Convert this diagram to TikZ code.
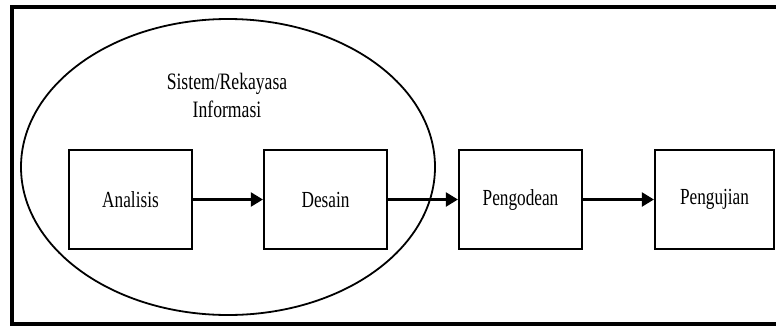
\documentclass[tikz,border=0pt]{standalone}
\usepackage{fontspec}
\setmainfont{Liberation Serif}[FakeStretch=0.75]
\usetikzlibrary{arrows.meta,shapes.geometric}
\tikzset{
  procbox/.style={draw, line width=2.2pt, minimum height=99pt, inner sep=0pt, font=\fontsize{23}{27}\selectfont},
  flow/.style={line width=2.2pt, -{Triangle[length=12pt,width=14pt]}},
  lbl/.style={align=center, inner sep=0pt, font=\fontsize{23.5}{28}\selectfont}
}
\begin{document}
\begin{tikzpicture}[x=1pt,y=-1pt]
\useasboundingbox (0,0) rectangle (776,327);
\fill[white] (0,0) rectangle (776,327);
\draw[line width=3.5pt] (12,7) -- (782,7) -- (782,324) -- (12,324) -- cycle;
\node[draw, ellipse, line width=1.8pt, minimum width=414pt, minimum height=296pt, inner sep=0pt] (sys) at (228,167) {};
\node[lbl] (syslbl) at (227,95) {Sistem/Rekayasa\\Informasi};
\node[procbox, minimum width=123pt] (an) at (130.5,199.5) {Analisis};
\node[procbox, minimum width=123pt] (de) at (325.5,199.5) {Desain};
\node[procbox, minimum width=123pt] (pg) at (520.5,199.5) {Pengodean};
\node[procbox, minimum width=119pt] (pj) at (714.5,199.5) {Pengujian};
\draw[flow] (an) -- (de);
\draw[flow] (de) -- (pg);
\draw[flow] (pg) -- (pj);
\end{tikzpicture}
\end{document}
